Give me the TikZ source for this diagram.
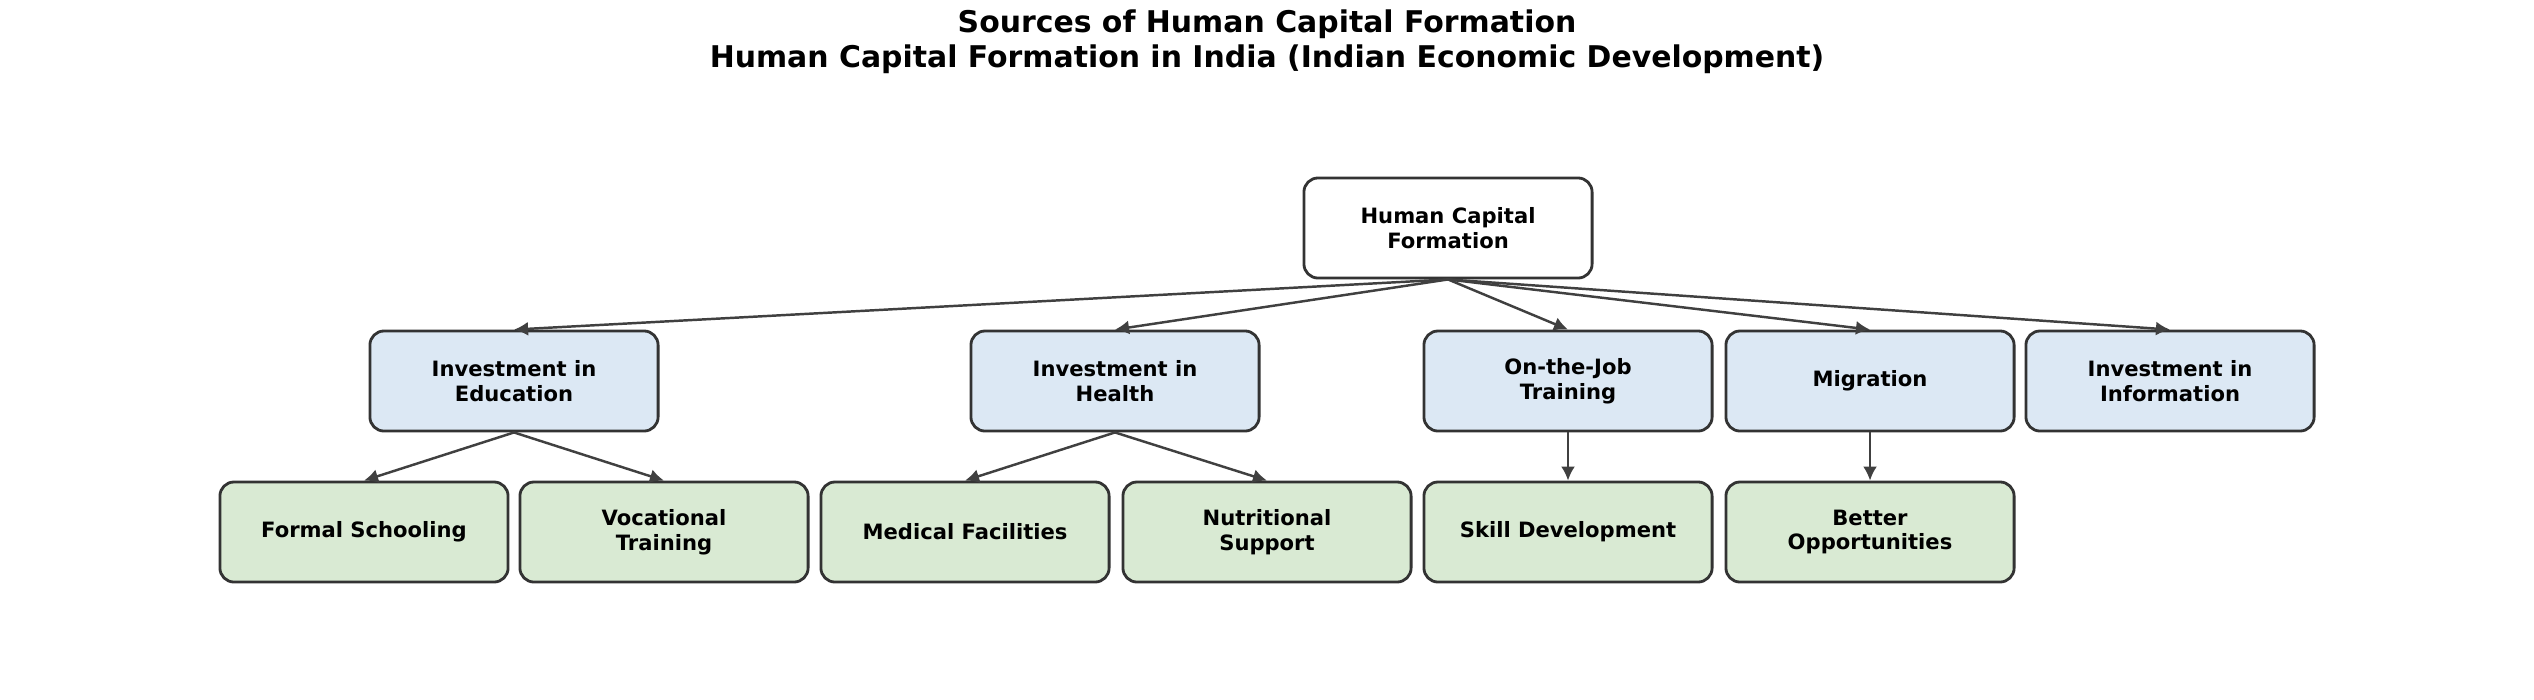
\documentclass[tikz,border=0pt]{standalone}
\usepackage{fontspec}
\setmainfont{DejaVu Sans}
\usetikzlibrary{arrows.meta,positioning}
\definecolor{edublue}{HTML}{DCE8F4}
\definecolor{leafgreen}{HTML}{D9EAD3}
\definecolor{linegray}{HTML}{404040}

\begin{document}
\begin{tikzpicture}[
    x=0.01cm, y=-0.01cm,
    box/.style={rectangle, rounded corners=4pt, draw=black!80, line width=0.8pt, minimum width=2.88cm, minimum height=1.0cm, align=center, font=\fontsize{6}{7}\selectfont\bfseries},
    rootbox/.style={box, fill=white},
    midbox/.style={box, fill=edublue},
    leafbox/.style={box, fill=leafgreen},
    arrow/.style={-{Latex[length=4pt,width=4pt]}, linegray, line width=0.7pt}
]
    \useasboundingbox (0,0) rectangle (2534,699);
    \node[font=\fontsize{8.5}{10}\selectfont\bfseries, align=center] (title) at (1267,42) {Sources of Human Capital Formation\\Human Capital Formation in India (Indian Economic Development)};

    \node[rootbox] (hcf) at (1448,228) {Human Capital\\Formation};

    \node[midbox] (edu) at (514,381) {Investment in\\Education};
    \node[midbox] (health) at (1115,381) {Investment in\\Health};
    \node[midbox] (ojt) at (1568,381) {On-the-Job\\Training};
    \node[midbox] (mig) at (1870,381) {Migration};
    \node[midbox] (info) at (2170,381) {Investment in\\Information};

    \node[leafbox] (school) at (364,532) {Formal Schooling};
    \node[leafbox] (voc) at (664,532) {Vocational\\Training};
    \node[leafbox] (med) at (965,532) {Medical Facilities};
    \node[leafbox] (nutri) at (1267,532) {Nutritional\\Support};
    \node[leafbox] (skill) at (1568,532) {Skill Development};
    \node[leafbox] (opp) at (1870,532) {Better\\Opportunities};

    \foreach \k in {edu,health,ojt,mig,info}
        \draw[arrow] (hcf.south) -- (\k.north);
    \draw[arrow] (edu.south) -- (school.north);
    \draw[arrow] (edu.south) -- (voc.north);
    \draw[arrow] (health.south) -- (med.north);
    \draw[arrow] (health.south) -- (nutri.north);
    \draw[arrow] (ojt.south) -- (skill.north);
    \draw[arrow] (mig.south) -- (opp.north);
\end{tikzpicture}
\end{document}
